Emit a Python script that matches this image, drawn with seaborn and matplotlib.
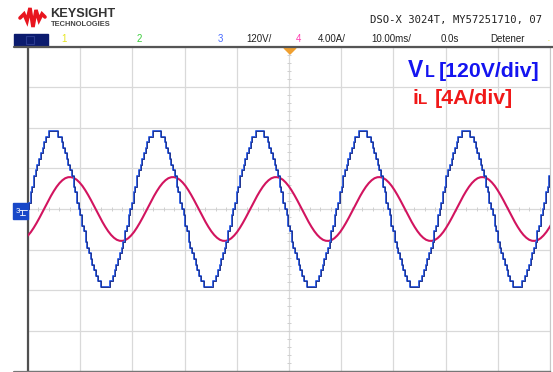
import numpy as np
import pandas as pd
import matplotlib
matplotlib.use("Agg")
import matplotlib.pyplot as plt
import seaborn as sns
from matplotlib.lines import Line2D
from matplotlib.patches import Rectangle, Polygon

V_PER_DIV = 120.0          # channel 3
A_PER_DIV = 4.0            # channel 4
MS_PER_DIV = 10.0
PERIOD_MS = 19.75          # one cycle of the waveforms
V_STEP = 16.4              # height of one inverter level (V)

# one cycle of the staircase voltage, in inverter levels (60 samples / cycle)
v_levels_half = [0, 1, 3, 4, 6, 7, 8, 9, 10, 11, 12, 13, 13, 14, 14,
                 14, 14, 14, 13, 13, 12, 11, 10, 9, 8, 7, 6, 4, 3, 1]
v_levels_cycle = v_levels_half + [-x for x in v_levels_half]

# one cycle of the inductor current, in A (36 samples / cycle)
i_cycle = [-2.61, -2.27, -1.85, -1.38, -0.87, -0.33, 0.22, 0.76, 1.28, 1.76,
           2.19, 2.55, 2.83, 3.03, 3.13, 3.14, 3.06, 2.88, 2.61, 2.27,
           1.85, 1.38, 0.87, 0.33, -0.22, -0.76, -1.28, -1.76, -2.19, -2.55,
           -2.83, -3.03, -3.13, -3.14, -3.06, -2.88]

N_CYCLES = 6
T_START = -50.0

v_vals = np.tile(np.array(v_levels_cycle) * V_STEP, N_CYCLES)
v_t = T_START + np.arange(len(v_vals)) * PERIOD_MS / len(v_levels_cycle)
i_vals = np.tile(np.array(i_cycle), N_CYCLES)
i_t = T_START + np.arange(len(i_vals)) * PERIOD_MS / len(i_cycle)

df_v = pd.DataFrame({"t": v_t, "div": v_vals / V_PER_DIV})
df_i = pd.DataFrame({"t": i_t, "div": i_vals / A_PER_DIV})

# ---------------- figure ----------------
sns.set_style("white")
plt.rcParams["font.family"] = ["Liberation Sans", "DejaVu Sans"]

W, H = 553, 372
fig = plt.figure(figsize=(W / 100, H / 100), dpi=100)
fig.patch.set_facecolor("white")
ax = fig.add_axes([28 / W, 0.5 / H, 522 / W, 325 / H])
ax.set_facecolor("white")

def fx(x):
    return x / W

def fy(y):
    return 1 - y / H

# graticule
ax.set_xlim(-50, 50)
ax.set_ylim(-4, 4)
ax.set_xticks(np.arange(-50, 51, MS_PER_DIV))
ax.set_yticks(np.arange(-4, 5, 1))
ax.grid(True, color="#d9d9d9", lw=0.9)
ax.tick_params(length=0, labelbottom=False, labelleft=False)
ax.set_xlabel("")
ax.set_ylabel("")
# minor ticks on the centre lines
mx = np.arange(-50, 50.1, 2.0)
ax.plot(mx, np.zeros_like(mx), ls="none", marker="|", ms=3, color="#cfcfcf", mew=0.7)
my = np.arange(-4, 4.01, 0.2)
ax.plot(np.zeros_like(my), my, ls="none", marker="_", ms=3, color="#cfcfcf", mew=0.7)

for side in ["top", "right"]:
    ax.spines[side].set_color("#c8c8c8")
    ax.spines[side].set_linewidth(0.8)
ax.spines["left"].set_color("#505050")
ax.spines["left"].set_linewidth(1.6)
ax.spines["bottom"].set_color("#707070")
ax.spines["bottom"].set_linewidth(1.6)

# traces
sns.lineplot(data=df_i, x="t", y="div", ax=ax, color="#d2145f", lw=1.5,
             estimator=None, sort=False, zorder=3)
sns.lineplot(data=df_v, x="t", y="div", ax=ax, color="#3563e6", lw=1.4,
             estimator=None, sort=False, drawstyle="steps-mid", zorder=4)
sns.lineplot(data=df_v, x="t", y="div", ax=ax, color="#1a2470", lw=0.5,
             estimator=None, sort=False, drawstyle="steps-mid", zorder=5)

# annotations
blue_t = "#1414f0"
red_t = "#f01818"
ax.text(0.728, 0.906, "V", transform=ax.transAxes, color=blue_t,
        fontsize=16.5, fontweight="bold", va="baseline")
ax.text(0.761, 0.906, "L", transform=ax.transAxes, color=blue_t,
        fontsize=11.5, fontweight="bold", va="baseline")
ax.text(0.787, 0.906, "[120V/div]", transform=ax.transAxes, color=blue_t,
        fontsize=15.3, fontweight="bold", va="baseline")
ax.text(0.736, 0.823, "i", transform=ax.transAxes, color=red_t,
        fontsize=15, fontweight="bold", va="baseline")
ax.text(0.747, 0.823, "L", transform=ax.transAxes, color=red_t,
        fontsize=11, fontweight="bold", va="baseline")
ax.text(0.780, 0.823, "[4A/div]", transform=ax.transAxes, color=red_t,
        fontsize=15.3, fontweight="bold", va="baseline")

# frame lines extending outside the graticule
fig.add_artist(Line2D([fx(14), fx(553)], [fy(47), fy(47)], color="#555555", lw=1.6))
fig.add_artist(Line2D([fx(14), fx(550)], [fy(371.5), fy(371.5)], color="#777777", lw=1.6))

# trigger marker
fig.add_artist(Polygon([[fx(284), fy(48)], [fx(296), fy(48)], [fx(290), fy(54)]],
                       closed=True, color="#f0a030"))

# channel 3 ground marker
fig.add_artist(Rectangle((fx(13), fy(219)), fx(15), 16 / H, color="#1848c8"))
fig.text(fx(15.5), fy(211), "3", color="white", fontsize=5.5, va="center", ha="left")
fig.add_artist(Line2D([fx(19), fx(27)], [fy(210), fy(210)], color="white", lw=0.6))
fig.add_artist(Line2D([fx(22), fx(22)], [fy(210), fy(215)], color="white", lw=0.6))
fig.add_artist(Line2D([fx(19.5), fx(24.5)], [fy(215), fy(215)], color="white", lw=0.6))

# header: logo
logo_x = [20, 24, 27, 30, 33, 36, 39, 42, 45]
logo_y = [18, 14, 21, 8, 27, 10, 20, 14, 17]
fig.add_artist(Line2D([fx(x) for x in logo_x], [fy(y) for y in logo_y],
                      color="#e8141e", lw=2.6, solid_joinstyle="miter"))
fig.text(fx(50), fy(14), "KEYSIGHT", fontsize=9.2, fontweight="bold",
         color="#333333", va="center", ha="left")
fig.text(fx(50.5), fy(25), "TECHNOLOGIES", fontsize=5.4, fontweight="bold",
         color="#444444", va="center", ha="left")
fig.text(fx(370), fy(20), "DSO-X 3024T, MY57251710, 07", fontsize=7.6,
         family="DejaVu Sans Mono", color="#222222", va="center", ha="left")

# header: status row
fig.add_artist(Rectangle((fx(14), fy(46)), fx(34), 12 / H, color="#0b1b6e"))
fig.add_artist(Rectangle((fx(26), fy(44)), fx(8), 8 / H, fill=False,
                         ec="#2a3a90", lw=0.8))
row_y = fy(39.5)
items = [(61, "1", "#e6e61e"), (137, "2", "#3ccc3c"), (218, "3", "#4a6cff"),
         (246, "120V/", "#222222"), (296, "4", "#ff3cb0"),
         (318, "4.00A/", "#222222"), (371, "10.00ms/", "#222222"),
         (441, "0.0s", "#222222"), (490, "Detener", "#222222")]
for x, s, c in items:
    fig.text(fx(x), row_y, s, fontsize=7, color=c, va="center", ha="left")
fig.text(fx(547), fy(41), "·", fontsize=8, color="#e6e61e", va="center", ha="left")

fig.savefig("out.png", dpi=100)
